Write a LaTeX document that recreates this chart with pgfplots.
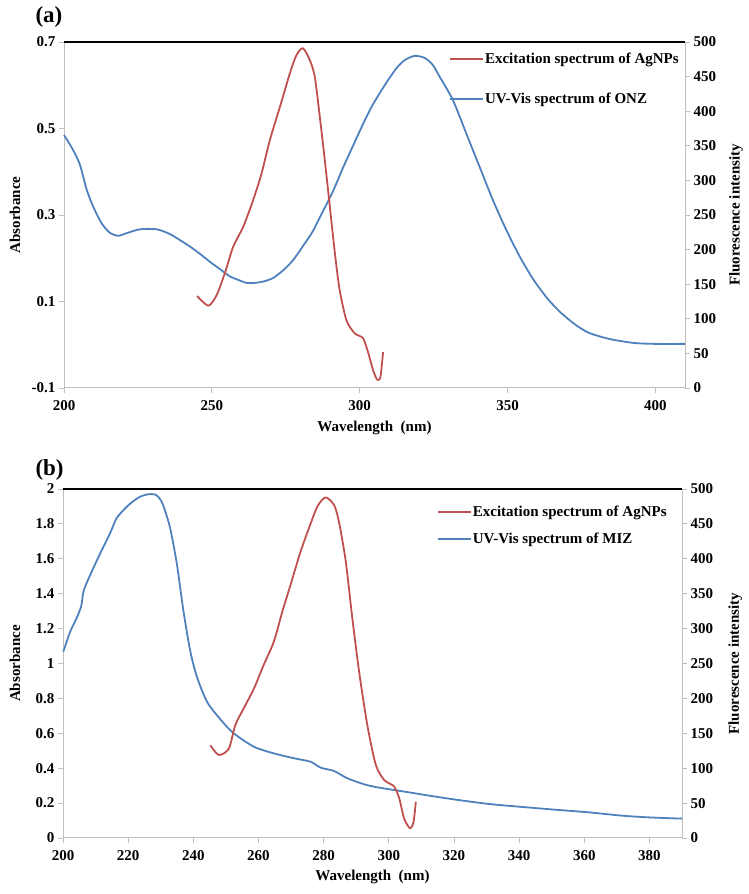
\documentclass[border=0pt]{standalone}
\usepackage{pgfplots}
\pgfplotsset{compat=1.18}
\usepackage{fontspec}
\setmainfont{Liberation Serif}
\definecolor{exred}{HTML}{C0504D}
\definecolor{uvblue}{HTML}{4F81BD}
\definecolor{axgray}{HTML}{BFBFBF}
\newcommand{\fs}{\fontsize{15}{16}\selectfont\bfseries}
\pgfplotsset{
  base/.style={scale only axis, anchor=south west,
    /pgf/number format/assume math mode=true,
    tick label style={font=\fs},
    label style={font=\fs},
    tick align=outside,
    major tick length=5pt,
    tick style={axgray, line width=0.8pt},
    clip=false},
  leftax/.style={base, axis x line*=bottom, axis y line*=left,
    axis line style={axgray, line width=1pt, -},
    ylabel={Absorbance},
    xlabel={Wavelength\ \ (nm)}},
  rightax/.style={base, axis x line*=top, axis y line*=right,
    xtick=\empty,
    x axis line style={black, line width=1.3pt, -},
    y axis line style={axgray, line width=1pt, -},
    ymin=0, ymax=500, ytick={0,50,...,500},
    ylabel={Fluorescence intensity},
    legend image code/.code={\draw[#1] (0pt,0pt) -- (33pt,0pt);},
    legend cell align=left},
  bl/.style={color=uvblue, line width=1.8pt, line join=round, smooth, tension=0.45},
  rd/.style={color=exred, line width=1.8pt, line join=round, smooth, tension=0.45},
}
\begin{document}
\begin{tikzpicture}
\useasboundingbox (0pt,0pt) rectangle (749pt,894pt);
% ---------------- panel (a)
\begin{axis}[leftax, at={(64pt,506pt)}, width=621pt, height=346pt,
  xmin=200, xmax=410, ymin=-0.1, ymax=0.7,
  xtick={200,250,300,350,400},
  ytick={-0.1,0.1,0.3,0.5,0.7}, yticklabels={-0.1,0.1,0.3,0.5,0.7},
  xticklabel style={yshift=-4pt},
  xlabel style={at={(axis description cs:0.5,-0.116)}, anchor=center},
  ylabel style={at={(axis description cs:-0.079,0.5)}, anchor=center}]
\addplot[bl] coordinates {
(200,0.485)(203.1,0.450)(205.4,0.416)(207.7,0.358)(209.9,0.319)(212.7,0.281)
(215.5,0.259)(218.3,0.252)(221.2,0.258)(225.7,0.267)(231.3,0.267)(235.8,0.256)
(239.2,0.242)(242.6,0.227)(246,0.210)(249.3,0.192)(252.7,0.175)(256.1,0.158)
(258.9,0.150)(261.7,0.143)(264.5,0.143)(267.3,0.146)(270.6,0.154)(274.1,0.172)
(277.4,0.195)(280.8,0.228)(284.1,0.262)(287.6,0.309)(290.9,0.354)(294.4,0.410)
(297.6,0.458)(301.1,0.510)(304,0.550)(306.8,0.582)(309.6,0.612)(312.5,0.640)
(315.2,0.658)(318.6,0.668)(322,0.663)(324.7,0.647)(327,0.620)(331.5,0.566)
(336,0.489)(340.5,0.412)(345,0.335)(349.6,0.265)(354.1,0.204)(358.6,0.152)
(363.1,0.110)(365.7,0.090)(368.2,0.073)(372.6,0.048)(377,0.029)(381.8,0.018)
(386.1,0.011)(392.9,0.004)(399.7,0.002)(410,0.002)};
\end{axis}
\begin{axis}[rightax, at={(64pt,506pt)}, width=621pt, height=346pt,
  xmin=200, xmax=410,
  ylabel style={at={(axis description cs:1.082,0.5)}, anchor=center},
  legend style={at={(axis description cs:0.620,0.971)}, anchor=north west,
    draw=none, fill=none, inner sep=0pt, row sep=26pt, font=\fs,
    nodes={inner sep=1pt}}]
\addplot[rd] coordinates {
(245.0,133)(248.8,119)(251.6,134)(254.4,166)(257.2,204)(260.6,233)(264,272)
(266.8,310)(269.6,358)(273,406)(276.4,455)(278.6,481)(280.8,491)(283.1,474)
(284.8,450)(286.5,392)(288.2,329)(289.9,262)(291.6,195)(293.2,142)(295.5,98)
(298.3,79)(301.1,72)(302.8,52)(304.5,26)(305.9,12)(307,16)(307.9,52)};
\addlegendentry{Excitation spectrum of AgNPs}
\addlegendimage{color=uvblue, line width=1.8pt}
\addlegendentry{UV-Vis spectrum of ONZ}
\end{axis}
\node[font=\fontsize{23}{24}\selectfont\bfseries, anchor=west] at (32pt,877pt) {(a)};
% ---------------- panel (b)
\begin{axis}[leftax, at={(63pt,56pt)}, width=619pt, height=349pt,
  xmin=200, xmax=390, ymin=0, ymax=2,
  xtick={200,220,...,380},
  ytick={0,0.2,...,2.01}, yticklabels={0,0.2,0.4,0.6,0.8,1,1.2,1.4,1.6,1.8,2},
  xticklabel style={yshift=-4pt},
  xlabel style={at={(axis description cs:0.5,-0.112)}, anchor=center},
  ylabel style={at={(axis description cs:-0.0775,0.5)}, anchor=center}]
\addplot[bl] coordinates {
(200.1,1.068)(202.2,1.182)(204.2,1.261)(205.6,1.33)(206.4,1.42)(208.8,1.526)
(211.9,1.650)(214.5,1.748)(216.5,1.834)(219.6,1.899)(221.5,1.929)(223.7,1.956)
(226.2,1.970)(228.3,1.968)(229.7,1.945)(230.9,1.899)(232.9,1.775)(235,1.565)
(237,1.297)(239.1,1.068)(241.1,0.924)(244.2,0.781)(248.3,0.680)(252.4,0.600)
(258.6,0.523)(264.7,0.485)(270.9,0.457)(276,0.437)(279.1,0.403)(283.2,0.384)
(287.3,0.342)(292.4,0.308)(296,0.292)(299.6,0.281)(306.1,0.262)(312.3,0.243)
(320.5,0.220)(330.7,0.195)(340.9,0.178)(351.2,0.162)(361.4,0.147)(371.6,0.128)
(380,0.118)(390,0.111)};
\end{axis}
\begin{axis}[rightax, at={(63pt,56pt)}, width=619pt, height=349pt,
  xmin=200, xmax=390,
  ylabel style={at={(axis description cs:1.086,0.5)}, anchor=center},
  legend style={at={(axis description cs:0.604,0.954)}, anchor=north west,
    draw=none, fill=none, inner sep=0pt, row sep=13pt, font=\fs,
    nodes={inner sep=1pt}}]
\addplot[rd] coordinates {
(245.2,133)(247.8,119)(250.9,128)(252.9,162)(255.5,186)(258.6,214)(261.6,248)
(264.7,281)(267.3,324)(269.8,362)(272.9,410)(275.5,444)(278.1,475)(280.6,488)
(283.2,477)(284.7,453)(286.8,396)(288.8,315)(290.9,238)(293.4,162)(296,105)
(298.6,83)(301.6,74)(303.2,57)(304.7,28)(306.5,14)(307.6,23)(308.3,52)};
\addlegendentry{Excitation spectrum of AgNPs}
\addlegendimage{color=uvblue, line width=1.8pt}
\addlegendentry{UV-Vis spectrum of MIZ}
\end{axis}
\node[font=\fontsize{23}{24}\selectfont\bfseries, anchor=west] at (32pt,424pt) {(b)};
\end{tikzpicture}
\end{document}
